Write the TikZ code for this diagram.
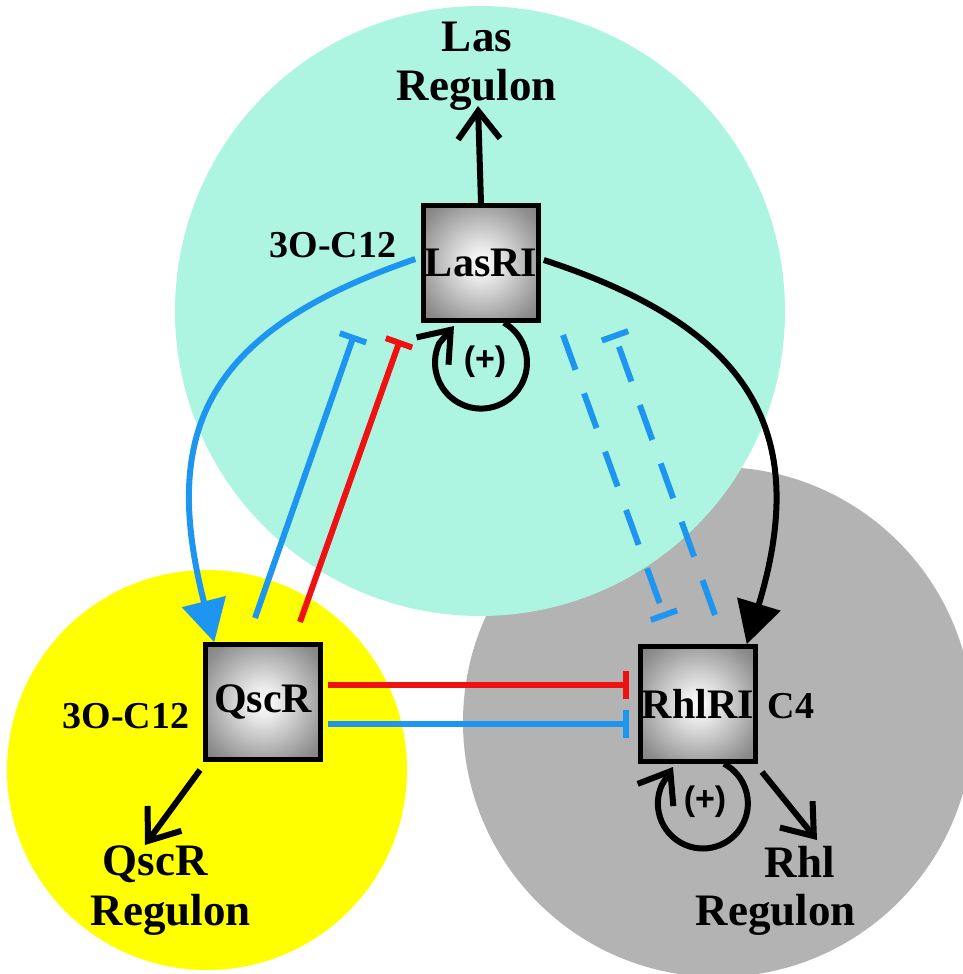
\documentclass[tikz,border=0pt]{standalone}
\usepackage{fontspec}
\setmainfont{Liberation Serif}
\newfontfamily\plusfont{Liberation Sans}
\usetikzlibrary{arrows.meta}
\definecolor{cyanbg}{RGB}{174,245,225}
\definecolor{yellowbg}{RGB}{255,255,0}
\definecolor{graybg}{RGB}{179,179,179}
\definecolor{blueL}{RGB}{30,150,240}
\definecolor{redL}{RGB}{238,18,18}
\pgfdeclareradialshading{boxshade}{\pgfpoint{0bp}{0bp}}{color(0bp)=(white); color(8bp)=(black!10); color(30bp)=(black!45); color(50bp)=(black!62); color(72bp)=(black!76)}
\begin{document}
\begin{tikzpicture}[x=1pt,y=-1pt,
  box/.style={draw=black, line width=4.5pt, minimum size=115pt, inner sep=0pt, shading=boxshade, font=\fontsize{42}{42}\selectfont\bfseries},
  lbl/.style={inner sep=0pt, anchor=base, font=\fontsize{45}{48}\selectfont\bfseries},
  sig/.style={inner sep=0pt, anchor=base, font=\fontsize{38}{38}\selectfont\bfseries},
  plus/.style={inner sep=0pt, font=\plusfont\fontsize{34}{34}\selectfont\bfseries},
  barb/.style={line width=6pt, draw=black, -{Straight Barb[length=28pt,width=42pt]}},
  tri/.style={line width=6pt, -{Triangle[length=42pt,width=44pt]}},
  inh/.style={line width=6pt, -{Bar[width=28pt]}},
  dsh/.style={line width=6pt, draw=blueL, dash pattern=on 37pt off 25pt, -{Bar[width=28pt]}}
]
\useasboundingbox (0,0) rectangle (963,974);
\begin{scope}
  \clip (0,0) rectangle (963,974);
  \fill[graybg] (718,722) circle[radius=255];
  \fill[cyanbg] (480,311) circle[radius=305];
  \fill[yellowbg] (207,770) circle[radius=200];
\end{scope}

% boxes
\node[box] (lasri) at (481,263) {LasRI};
\node[box] (qscr) at (263,702) {QscR};
\node[box] (rhlri) at (698,704) {RhlRI};

% labels
\node[lbl] (las1) at (477,52) {Las};
\node[lbl] (las2) at (477,100) {Regulon};
\node[lbl] (qsc1) at (155,875) {QscR};
\node[lbl] (qsc2) at (171,925) {Regulon};
\node[lbl] (rhl1) at (800,877) {Rhl};
\node[lbl] (rhl2) at (776,925) {Regulon};
\node[sig] (aiU) at (333,257) {3O-C12};
\node[sig] (aiL) at (126,728) {3O-C12};
\node[sig] (c4) at (791,718) {C4};
\node[plus] (plusL) at (485,362) {(+)};
\node[plus] (plusR) at (705,802) {(+)};

% free ends
\coordinate (lasT) at (478,106);
\coordinate (qsA) at (200,770);
\coordinate (qsT) at (145,845);
\coordinate (rhA) at (762,772);
\coordinate (rhT) at (817,840);
\coordinate (bS) at (255,618);
\coordinate (bE) at (354,335);
\coordinate (rS) at (300,622);
\coordinate (rE) at (400,340);
\coordinate (dA1) at (563,335);
\coordinate (dA2) at (665,618);
\coordinate (dB1) at (715,615);
\coordinate (dB2) at (614,333);
\coordinate (loopLT) at (454,326);
\coordinate (loopRT) at (673,767);

% regulon arrows
\draw[barb] (lasri.north) -- (lasT);
\draw[barb] (qsA) -- (qsT);
\draw[barb] (rhA) -- (rhT);

% self loops
\draw[barb] ([xshift=23pt]lasri.south) arc[start angle=-60, end angle=205, radius=46] -- (loopLT);
\draw[barb] ([xshift=26pt]rhlri.south) arc[start angle=-62, end angle=205, radius=45] -- (loopRT);

% curved activations
\draw[tri, draw=blueL] ([shift={(-6pt,4pt)}]lasri.west) .. controls (206,331) and (160,430) .. ([xshift=11pt]qscr.north west);
\draw[tri, draw=black] ([shift={(3pt,3pt)}]lasri.east) .. controls (752,328) and (811,432) .. ([xshift=-11pt]rhlri.north east);

% inhibitions
\draw[inh, draw=blueL] (bS) -- (bE);
\draw[inh, draw=redL] (rS) -- (rE);
\draw[inh, draw=redL] ([shift={(5pt,17pt)}]qscr.east) -- ([shift={(-9pt,19pt)}]rhlri.west);
\draw[inh, draw=blueL] ([shift={(5pt,-22pt)}]qscr.east) -- ([shift={(-9pt,-20pt)}]rhlri.west);

% dashed inhibitions
\draw[dsh] (dA1) -- (dA2);
\draw[dsh] (dB1) -- (dB2);
\end{tikzpicture}
\end{document}
